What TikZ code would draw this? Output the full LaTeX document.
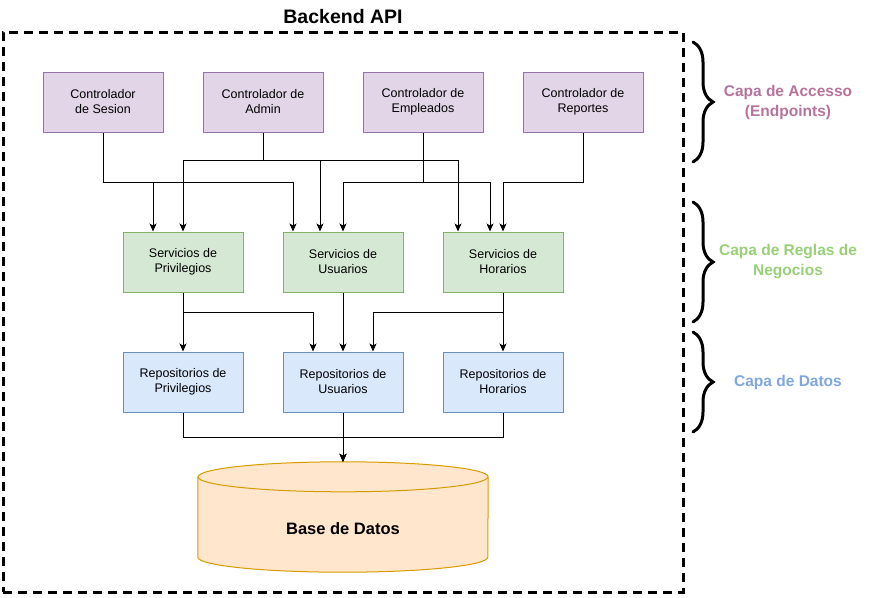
\documentclass[tikz,border=0pt]{standalone}
\usepackage{fontspec}
\setmainfont{Liberation Sans}
\usetikzlibrary{arrows.meta,backgrounds,decorations.pathreplacing}

\definecolor{accfill}{HTML}{E1D5E7}
\definecolor{accline}{HTML}{9673A6}
\definecolor{acctext}{HTML}{B5739D}
\definecolor{regfill}{HTML}{D5E8D4}
\definecolor{regline}{HTML}{82B366}
\definecolor{regtext}{HTML}{97D077}
\definecolor{datfill}{HTML}{DAE8FC}
\definecolor{datline}{HTML}{6C8EBF}
\definecolor{dattext}{HTML}{7EA6E0}
\definecolor{bdfill}{HTML}{FFE6CC}
\definecolor{bdline}{HTML}{D79B00}

\tikzset{
	ctrl/.style = {draw = accline, fill = accfill, line width = 1pt, minimum width = 120pt, minimum height = 60pt, align = center, inner sep = 0pt, font = \fontsize{12.5}{15}\selectfont},
	serv/.style = {ctrl, draw = regline, fill = regfill},
	repo/.style = {ctrl, draw = datline, fill = datfill},
	conn/.style = {->, >={Stealth[length=8pt,width=7pt,inset=2pt]}, line width = 0.9pt},
	capa/.style = {decorate, decoration = {brace, amplitude = 20pt}, line width = 3pt, line cap = round},
	capatxt/.style = {align = center, font = \bfseries\fontsize{15.5}{20}\selectfont},
	tapa/.style = {x radius = 145pt, y radius = 15pt}
}

\begin{document}
\begin{tikzpicture}[x = 1pt, y = -1pt]
	\useasboundingbox (0,0) rectangle (886,597);
	\node [draw, line width = 3pt, dash pattern = on 9pt off 6pt, minimum width = 680pt, minimum height = 560pt] (api) at (343,312) {};
	\node [font = \bfseries\fontsize{19.5}{23}\selectfont] (apil) at (343,17) {Backend API};

	\node [ctrl] (cs) at (103,102) {Controlador\\de Sesion};
	\node [ctrl] (ca) at (263,102) {Controlador de\\Admin};
	\node [ctrl] (ce) at (423,102) {Controlador de\\Empleados};
	\node [ctrl] (cr) at (583,102) {Controlador de\\Reportes};

	\node [serv] (sp) at (183,262) {Servicios de\\Privilegios};
	\node [serv] (su) at (343,262) {Servicios de\\Usuarios};
	\node [serv] (sh) at (503,262) {Servicios de\\Horarios};

	\node [repo] (rp) at (183,382) {Repositorios de\\Privilegios};
	\node [repo] (ru) at (343,382) {Repositorios de\\Usuarios};
	\node [repo] (rh) at (503,382) {Repositorios de\\Horarios};

	\node [minimum width = 290pt, minimum height = 110pt, inner sep = 0pt, font = \bfseries\fontsize{16.5}{20}\selectfont] (bd) at (343,517) {\raisebox{-17pt}[0pt][0pt]{Base de Datos}};
	\begin{scope}[on background layer]
		\filldraw [draw = bdline, fill = bdfill, line width = 1pt] ([yshift=-15pt]bd.north west) -- ([yshift=15pt]bd.south west) arc [start angle = 180, end angle = 360, tapa] -- ([yshift=-15pt]bd.north east) arc [start angle = 0, end angle = 180, tapa] -- cycle;
		\draw [bdline, line width = 1pt] ([yshift=-15pt]bd.north west) arc [start angle = 180, end angle = 360, tapa];
	\end{scope}

	\draw [conn] (cs.south) -- ++(0,50) -| ([xshift=-30pt]sp.north);
	\draw [conn] (cs.south) -- ++(0,50) -| ([xshift=-50pt]su.north);
	\draw [conn] (ca.south) -- ++(0,28) -| (sp.north);
	\draw [conn] (ca.south) -- ++(0,28) -| ([xshift=-23pt]su.north);
	\draw [conn] (ca.south) -- ++(0,28) -| ([xshift=-45pt]sh.north);
	\draw [conn] (ce.south) -- ++(0,50) -| (su.north);
	\draw [conn] (ce.south) -- ++(0,50) -| ([xshift=-13pt]sh.north);
	\draw [conn] (cr.south) -- ++(0,50) -| (sh.north);

	\draw [conn] (sp) -- (rp);
	\draw [conn] (sp.south) -- ++(0,20) -| ([xshift=-30pt]ru.north);
	\draw [conn] (su) -- (ru);
	\draw [conn] (sh.south) -- ++(0,20) -| ([xshift=30pt]ru.north);
	\draw [conn] (sh) -- (rh);

	\draw [conn] (rp.south) -- ++(0,25) -| (bd.north);
	\draw [conn] (ru) -- (bd.north);
	\draw [conn] (rh.south) -- ++(0,25) -| (bd.north);

	\coordinate (b1t) at (693,42);
	\coordinate (b1b) at (693,162);
	\coordinate (b2t) at (693,202);
	\coordinate (b2b) at (693,322);
	\coordinate (b3t) at (693,332);
	\coordinate (b3b) at (693,432);
	\draw [capa] (b1t) -- (b1b);
	\draw [capa] (b2t) -- (b2b);
	\draw [capa] (b3t) -- (b3b);
	\node [capatxt, text = acctext] (l1) at (788,102) {Capa de Accesso\\(Endpoints)};
	\node [capatxt, text = regtext] (l2) at (788,262) {Capa de Reglas de\\Negocios};
	\node [capatxt, text = dattext] (l3) at (788,382) {Capa de Datos};
\end{tikzpicture}
\end{document}
